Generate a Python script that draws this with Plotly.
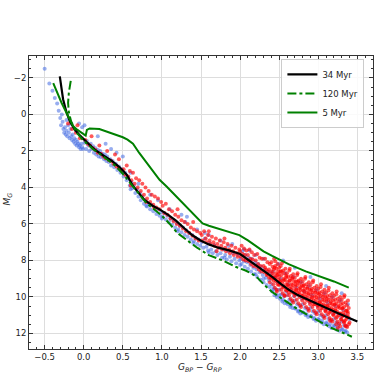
import plotly.graph_objects as go

# ---------------- isochrones ----------------
iso34_x = [-0.306, -0.264, -0.22, -0.178, -0.115, -0.05, 0.034, 0.14, 0.25, 0.36, 0.46, 0.55, 0.63, 0.71, 0.78, 0.88, 0.97, 1.08, 1.18, 1.29, 1.39, 1.5, 1.6, 1.72, 1.86, 2.0, 2.1, 2.2, 2.3, 2.41, 2.52, 2.62, 2.73, 2.84, 2.95, 3.05, 3.16, 3.26, 3.38, 3.5]
iso34_y = [-2.08, -0.83, -0.11, 0.37, 0.83, 1.15, 1.5, 1.93, 2.25, 2.55, 2.9, 3.3, 3.92, 4.35, 4.7, 5.0, 5.2, 5.5, 5.82, 6.25, 6.62, 6.92, 7.12, 7.3, 7.45, 7.65, 7.95, 8.26, 8.55, 8.9, 9.28, 9.6, 9.88, 10.1, 10.3, 10.5, 10.7, 10.9, 11.12, 11.35]

iso120_x = [-0.166, -0.18, -0.19, -0.2, -0.19, -0.16, -0.1, 0.0, 0.12, 0.25, 0.4, 0.5, 0.6, 0.7, 0.8, 0.9, 1.0, 1.1, 1.2, 1.35, 1.45, 1.6, 1.77, 1.95, 2.07, 2.2, 2.3, 2.41, 2.52, 2.62, 2.73, 2.84, 2.95, 3.05, 3.17, 3.3, 3.43]
iso120_y = [-1.84, -1.5, -1.2, -0.64, -0.1, 0.4, 0.95, 1.45, 1.9, 2.3, 2.8, 3.25, 3.8, 4.35, 4.85, 5.2, 5.55, 6.0, 6.5, 6.98, 7.3, 7.71, 7.99, 8.36, 8.55, 8.85, 9.3, 9.73, 10.05, 10.37, 10.65, 10.93, 11.2, 11.44, 11.7, 11.93, 12.18]

iso5_x = [-0.39, -0.284, -0.2, -0.136, -0.08, -0.02, 0.025, 0.04, 0.076, 0.2, 0.33, 0.42, 0.5, 0.56, 0.63, 0.71, 0.78, 0.84, 0.97, 1.06, 1.14, 1.22, 1.31, 1.39, 1.46, 1.52, 1.6, 1.77, 1.99, 2.1, 2.2, 2.3, 2.41, 2.5, 2.62, 2.84, 3.05, 3.2, 3.39]
iso5_y = [-1.71, -0.64, 0.09, 0.64, 0.85, 1.0, 1.16, 0.85, 0.77, 0.8, 1.0, 1.1, 1.25, 1.38, 1.6, 2.11, 2.5, 2.9, 3.58, 3.95, 4.3, 4.7, 5.05, 5.42, 5.75, 5.97, 6.1, 6.34, 6.61, 6.9, 7.2, 7.5, 7.75, 7.95, 8.2, 8.6, 8.9, 9.15, 9.49]

# ---------------- stars (blue) ----------------
blue_x = [
 -0.50,-0.44,-0.40,-0.37,-0.34,-0.32,-0.30,-0.29,-0.27,-0.26,-0.25,-0.24,-0.23,-0.22,-0.21,-0.20,-0.19,-0.18,-0.17,-0.16,-0.15,-0.14,-0.13,-0.12,-0.11,-0.10,-0.09,-0.08,-0.07,-0.06,-0.05,-0.04,-0.03,-0.02,-0.01,-0.06,-0.02,0.01,-0.28,-0.22,-0.16,-0.10,
 0.01,0.03,0.04,0.06,0.07,0.09,0.10,0.12,0.13,0.15,0.16,0.18,0.19,0.21,0.22,0.24,0.26,0.27,0.29,0.30,0.32,0.34,0.35,0.37,0.39,0.41,0.43,0.45,0.47,0.49,0.35,0.42,0.50,0.28,0.18,
 0.51,0.53,0.55,0.57,0.59,0.61,0.62,0.64,0.66,0.68,0.70,0.72,0.73,0.75,0.77,0.79,0.81,0.83,0.85,0.87,0.89,0.91,0.93,0.95,0.97,0.99,0.60,0.70,0.85,0.95,
 1.01,1.03,1.05,1.07,1.09,1.11,1.13,1.15,1.17,1.19,1.21,1.23,1.25,1.27,1.29,1.31,1.33,1.35,1.37,1.39,1.41,1.43,1.45,1.47,1.49,1.10,1.30,1.45,1.25,1.32,
 1.51,1.53,1.55,1.57,1.59,1.61,1.63,1.65,1.67,1.69,1.71,1.73,1.75,1.77,1.79,1.81,1.83,1.85,1.87,1.89,1.91,1.93,1.95,1.97,1.99,1.60,1.75,1.90,1.55,1.85,
 2.01,2.02,2.03,2.05,2.06,2.07,2.09,2.10,2.11,2.13,2.14,2.15,2.17,2.18,2.19,2.21,2.22,2.23,2.25,2.26,2.27,2.29,2.30,2.31,2.33,2.34,2.35,2.37,2.38,2.39,2.05,2.20,2.30,2.12,
 2.40,2.41,2.42,2.43,2.44,2.45,2.46,2.47,2.48,2.49,
 2.50,2.51,2.52,2.53,2.54,2.55,2.56,2.57,2.58,2.59,
 2.60,2.61,2.62,2.63,2.64,2.65,2.66,2.67,2.68,2.69,
 2.70,2.71,2.72,2.73,2.74,2.75,2.76,2.77,2.78,2.79,
 2.80,2.81,2.82,2.83,2.84,2.85,2.86,2.87,2.88,2.89,
 2.90,2.91,2.92,2.93,2.94,2.95,2.96,2.97,2.98,2.99,
 3.00,3.01,3.02,3.03,3.04,3.05,3.06,3.07,3.08,3.09,
 3.10,3.11,3.12,3.13,3.14,3.15,3.16,3.17,3.18,3.19,
 3.20,3.21,3.22,3.23,3.24,3.25,3.26,3.27,3.28,3.29,
 3.30,3.31,3.32,3.33,3.34,3.35,3.36,3.37,3.38,3.40,
 2.55,2.90,3.10,2.70,3.30,
 2.42,2.46,2.50,2.55,2.60,2.65,2.70,2.75,2.80,2.85,2.90,2.95,3.00,3.05,3.10,3.15,3.20,3.25,3.30,3.35,
 1.00,1.20,1.40,1.60,1.80,2.00,2.20,2.30,0.80,0.60,
]
blue_y = [
 -2.5,-1.7,-1.3,-0.9,-0.6,-0.2,0.2,0.6,0.4,0.8,1.0,0.7,1.1,0.9,1.2,0.6,1.0,1.3,0.8,1.2,1.4,1.1,1.5,1.3,1.6,1.4,1.7,1.5,1.6,1.8,1.7,1.9,1.6,1.8,1.9,0.5,0.7,0.6,0.0,0.3,0.5,0.9,
 1.55,1.9,1.45,1.7,2.0,1.6,1.9,1.75,2.1,1.85,2.2,1.95,2.3,2.0,2.35,2.15,2.45,2.2,2.55,2.3,2.6,2.45,2.8,2.55,2.9,2.7,3.05,2.85,3.2,3.0,1.9,2.1,2.3,1.6,1.2,
 3.4,3.2,3.6,3.45,3.9,3.7,4.05,3.9,4.3,4.1,4.5,4.3,4.7,4.5,4.9,4.7,5.05,4.85,5.2,4.95,5.3,5.1,5.45,5.2,5.55,5.35,3.2,3.8,4.4,4.7,
 5.6,5.4,5.75,5.55,5.9,5.7,6.05,5.8,6.2,5.95,6.3,6.1,6.45,6.2,6.6,6.35,6.7,6.5,6.85,6.6,6.95,6.75,7.1,6.85,7.2,5.2,5.9,6.3,5.5,5.6,
 7.0,7.3,6.8,7.25,7.45,7.05,7.4,7.6,7.15,7.5,7.7,7.3,7.6,7.85,7.4,7.7,7.95,7.5,7.8,8.05,7.6,7.9,8.15,7.7,8.0,6.6,6.9,7.1,6.5,7.2,
 7.9,8.2,7.5,8.05,8.35,7.7,8.1,8.45,7.85,8.25,8.6,7.9,8.4,8.75,8.1,8.5,8.9,8.2,8.65,9.05,8.35,8.8,9.2,8.5,8.95,9.35,8.6,9.1,9.45,8.7,7.4,7.7,7.9,7.45,
 9.3,9.7,8.6,9.5,9.9,8.9,9.6,10.0,9.2,8.2,
 9.6,10.1,9.0,9.85,10.25,9.4,9.95,10.35,8.7,9.7,
 9.9,10.4,9.3,10.15,10.55,9.6,10.25,10.6,8.9,9.95,
 10.2,10.65,9.5,10.4,10.8,9.9,10.5,10.9,9.2,10.1,
 10.4,10.85,9.7,10.6,11.0,10.1,10.7,11.1,9.4,10.3,
 10.6,11.05,9.9,10.8,11.2,10.3,10.9,11.3,9.6,10.5,
 10.8,11.25,10.1,11.0,11.4,10.5,11.1,11.5,9.8,10.7,
 11.0,11.45,10.3,11.2,11.6,10.7,11.3,11.7,10.0,10.9,
 11.2,11.6,10.5,11.4,11.8,10.9,11.5,11.85,10.2,11.1,
 11.35,11.75,10.7,11.55,11.9,11.0,11.6,11.95,10.4,11.2,
 8.0,8.9,9.4,8.4,9.8,
 9.6,9.85,9.9,10.15,10.3,10.45,10.6,10.75,10.85,10.95,11.05,11.15,11.2,11.3,11.4,11.5,11.55,11.65,11.8,11.85,
 5.7,6.4,7.05,7.55,7.85,8.25,8.75,9.0,5.0,4.1,
]

# ---------------- stars (red) ----------------
red_x = [
 0.02,0.05,0.08,0.12,0.15,0.18,0.22,0.25,0.28,0.32,0.35,0.38,0.42,0.45,0.48,0.20,0.30,0.40,0.45,0.10,-0.10,-0.15,-0.05,-0.20,-0.08,
 0.51,0.53,0.55,0.57,0.59,0.61,0.63,0.65,0.67,0.69,0.71,0.73,0.75,0.77,0.79,0.81,0.83,0.85,0.87,0.89,0.91,0.93,0.95,0.97,0.99,0.60,0.80,0.90,
 1.01,1.03,1.05,1.07,1.09,1.11,1.13,1.15,1.17,1.19,1.21,1.23,1.25,1.27,1.29,1.31,1.33,1.35,1.37,1.39,1.41,1.43,1.45,1.47,1.49,1.20,1.40,
 1.51,1.52,1.54,1.56,1.57,1.59,1.61,1.62,1.64,1.66,1.67,1.69,1.71,1.72,1.74,1.76,1.77,1.79,1.81,1.82,1.84,1.86,1.87,1.89,1.91,1.92,1.94,1.96,1.97,1.99,1.60,1.80,1.70,
 2.00,2.01,2.02,2.03,2.04,2.05,2.06,2.07,2.08,
 2.10,2.11,2.12,2.13,2.14,2.15,2.16,2.17,2.18,
 2.20,2.21,2.22,2.23,2.24,2.25,2.26,2.27,2.28,
 2.30,2.31,2.32,2.33,2.34,2.35,2.36,2.37,2.38,
 2.400,2.405,2.410,2.415,2.420,2.425,2.430,2.435,2.440,2.445,2.450,2.455,2.460,2.465,2.470,2.475,2.480,2.485,2.490,2.495,
 2.500,2.505,2.510,2.515,2.520,2.525,2.530,2.535,2.540,2.545,2.550,2.555,2.560,2.565,2.570,2.575,2.580,2.585,2.590,2.595,
 2.600,2.605,2.610,2.615,2.620,2.625,2.630,2.635,2.640,2.645,2.650,2.655,2.660,2.665,2.670,2.675,2.680,2.685,2.690,2.695,
 2.700,2.705,2.710,2.715,2.720,2.725,2.730,2.735,2.740,2.745,2.750,2.755,2.760,2.765,2.770,2.775,2.780,2.785,2.790,2.795,
 2.800,2.805,2.810,2.815,2.820,2.825,2.830,2.835,2.840,2.845,2.850,2.855,2.860,2.865,2.870,2.875,2.880,2.885,2.890,2.895,
 2.900,2.905,2.910,2.915,2.920,2.925,2.930,2.935,2.940,2.945,2.950,2.955,2.960,2.965,2.970,2.975,2.980,2.985,2.990,2.995,
 3.000,3.005,3.010,3.015,3.020,3.025,3.030,3.035,3.040,3.045,3.050,3.055,3.060,3.065,3.070,3.075,3.080,3.085,3.090,3.095,
 3.100,3.105,3.110,3.115,3.120,3.125,3.130,3.135,3.140,3.145,3.150,3.155,3.160,3.165,3.170,3.175,3.180,3.185,3.190,3.195,
 3.200,3.205,3.210,3.215,3.220,3.225,3.230,3.235,3.240,3.245,3.250,3.255,3.260,3.265,3.270,3.275,3.280,3.285,3.290,3.295,
 3.300,3.305,3.310,3.315,3.320,3.325,3.330,3.335,3.340,3.345,3.350,3.355,3.360,3.365,3.370,3.375,3.380,3.385,3.390,3.400,
 2.32,2.35,2.37,2.39,2.41,2.43,2.44,2.46,2.48,2.49,
 2.51,2.53,2.54,2.56,2.58,2.59,2.61,2.62,2.64,2.66,
 2.67,2.69,2.71,2.72,2.74,2.76,2.77,2.79,2.81,2.82,
 2.84,2.86,2.87,2.89,2.91,2.92,2.94,2.96,2.97,2.99,
 3.01,3.02,3.04,3.06,3.07,3.09,3.11,3.12,3.14,3.16,
 3.17,3.19,3.21,3.22,3.24,3.26,3.27,3.29,3.31,3.32,
 3.34,3.36,3.37,3.39,3.38,3.35,3.33,3.28,3.23,3.18,
 2.52,2.63,2.73,2.83,2.93,3.03,3.13,3.23,3.33,2.45,
 2.57,2.68,2.78,2.88,2.98,3.08,3.15,3.25,2.47,2.38,
]
red_y = [
 1.4,1.6,1.7,1.85,1.95,2.1,2.15,2.3,2.4,2.5,2.55,2.7,2.85,2.95,3.05,1.7,2.0,2.2,2.45,1.2,1.0,0.8,1.3,0.5,0.6,
 3.0,3.3,2.8,3.4,3.1,3.6,3.2,3.8,3.5,4.0,3.6,4.2,3.8,4.4,4.0,4.6,4.2,4.8,4.4,4.95,4.5,5.1,4.6,5.2,4.8,3.9,4.8,5.1,
 5.0,5.4,4.9,5.5,5.2,5.7,5.3,5.85,5.5,6.0,5.6,6.1,5.8,6.25,5.9,6.4,6.0,6.5,6.2,6.65,6.3,6.8,6.4,6.9,6.5,5.2,5.9,
 6.6,6.9,6.4,6.8,7.0,6.6,6.9,7.1,6.7,7.0,7.2,6.8,7.1,7.3,6.9,7.2,7.4,7.0,7.3,7.5,7.1,7.4,7.6,7.2,7.5,7.7,7.3,7.6,7.8,7.4,6.4,6.8,7.5,
 7.5,7.8,7.2,7.65,7.95,7.35,7.7,8.0,7.45,
 7.7,8.05,7.4,7.9,8.2,7.55,7.95,8.3,7.7,
 8.0,8.35,7.65,8.2,8.5,7.85,8.3,8.6,7.9,
 8.3,8.65,7.9,8.5,8.8,8.1,8.6,8.95,8.2,
 8.1,8.6,9.0,8.35,8.85,9.3,8.5,7.9,8.95,9.5,8.3,8.7,9.15,8.45,9.6,8.8,8.2,9.05,8.6,9.35,
 8.4,8.9,9.3,8.6,9.1,9.6,8.8,8.15,9.25,9.8,8.55,9.0,9.45,8.7,9.9,9.05,8.45,9.35,8.85,9.65,
 8.7,9.2,9.6,8.9,9.4,9.9,9.1,8.45,9.55,10.1,8.85,9.3,9.75,9.0,10.2,9.35,8.75,9.65,9.15,9.95,
 8.95,9.45,9.85,9.15,9.65,10.15,9.35,8.7,9.8,10.35,9.1,9.55,10.0,9.25,10.45,9.6,9.0,9.9,9.4,10.2,
 9.15,9.65,10.05,9.35,9.85,10.35,9.55,8.9,10.0,10.55,9.3,9.75,10.2,9.45,10.65,9.8,9.2,10.1,9.6,10.4,
 9.35,9.85,10.25,9.55,10.05,10.55,9.75,9.1,10.2,10.75,9.5,9.95,10.4,9.65,10.85,10.0,9.4,10.3,9.8,10.6,
 9.55,10.05,10.45,9.75,10.25,10.75,9.95,9.3,10.4,10.95,9.7,10.15,10.6,9.85,11.05,10.2,9.6,10.5,10.0,10.8,
 9.75,10.25,10.65,9.95,10.45,10.95,10.15,9.5,10.6,11.15,9.9,10.35,10.8,10.05,11.25,10.4,9.8,10.7,10.2,11.0,
 9.95,10.45,10.85,10.15,10.65,11.15,10.35,9.7,10.8,11.35,10.1,10.55,11.0,10.25,11.45,10.6,10.0,10.9,10.4,11.2,
 10.15,10.65,11.05,10.35,10.85,11.35,10.55,9.9,11.0,11.55,10.3,10.75,11.2,10.45,11.65,10.8,10.2,11.1,10.6,11.4,
 8.4,8.75,8.5,8.95,8.7,9.1,8.4,8.9,9.3,8.75,
 9.15,8.6,9.45,9.1,9.6,8.9,9.35,9.75,9.1,9.5,
 8.95,9.8,9.3,9.6,9.15,9.75,9.45,9.95,9.4,9.7,
 10.1,9.55,9.9,10.25,9.65,10.0,10.4,9.75,10.15,10.45,
 9.85,10.3,10.6,10.0,10.4,10.75,10.1,10.5,10.85,10.25,
 10.6,10.95,10.4,10.75,11.1,10.5,10.9,11.25,10.6,11.0,
 11.3,10.75,11.1,11.5,10.9,11.6,11.4,11.6,11.5,11.35,
 8.3,8.55,8.8,9.0,9.2,9.45,9.65,9.85,10.0,8.05,
 9.95,10.3,10.55,10.75,10.95,11.15,11.3,11.7,9.7,9.2,
]

x_ticks = [-0.5, 0.0, 0.5, 1.0, 1.5, 2.0, 2.5, 3.0, 3.5]
y_ticks = [-2, 0, 2, 4, 6, 8, 10, 12]

FONT = "DejaVu Sans"
fig = go.Figure()
fig.add_trace(go.Scatter(x=blue_x, y=blue_y, mode="markers", showlegend=False, hoverinfo="skip",
                         marker=dict(color="#4169e1", size=4, opacity=0.55, line=dict(width=0))))
fig.add_trace(go.Scatter(x=red_x, y=red_y, mode="markers", showlegend=False, hoverinfo="skip",
                         marker=dict(color="#ff0000", size=4, opacity=0.65, line=dict(width=0))))
fig.add_trace(go.Scatter(x=iso34_x, y=iso34_y, mode="lines", name="34 Myr",
                         line=dict(color="black", width=2.2)))
fig.add_trace(go.Scatter(x=iso120_x, y=iso120_y, mode="lines", name="120 Myr",
                         line=dict(color="#008000", width=2, dash="dashdot")))
fig.add_trace(go.Scatter(x=iso5_x, y=iso5_y, mode="lines", name="5 Myr",
                         line=dict(color="#008000", width=2)))

axis_common = dict(showgrid=True, gridcolor="#dddddd", gridwidth=1, zeroline=False,
                   showline=True, linecolor="#333333", linewidth=1, mirror="allticks",
                   ticks="inside", ticklen=4, tickcolor="#333333", automargin=False,
                   tickfont=dict(family=FONT, size=8.5, color="#222222"))

fig.update_xaxes(range=[-0.7, 3.7], tickvals=x_ticks,
                 ticktext=[("\u2212" if v < 0 else "") + f"{abs(v):.1f}" for v in x_ticks],
                 minor=dict(dtick=0.1, tick0=0, ticks="inside", ticklen=2, tickcolor="#333333", showgrid=False),
                 **axis_common)
fig.update_yaxes(range=[12.85, -3.2], tickvals=y_ticks,
                 ticktext=[("\u2212" if v < 0 else "") + f"{abs(v)}" for v in y_ticks],
                 minor=dict(dtick=0.5, tick0=0, ticks="inside", ticklen=2, tickcolor="#333333", showgrid=False),
                 **axis_common)

fig.add_annotation(text="<i>G</i><sub><i>BP</i></sub> \u2212 <i>G</i><sub><i>RP</i></sub>",
                   xref="paper", yref="paper", x=0.497, y=-0.036, xanchor="center", yanchor="top",
                   showarrow=False, font=dict(family=FONT, size=9, color="#222222"))
fig.add_annotation(text="<i>M</i><sub><i>G</i></sub>",
                   xref="paper", yref="paper", x=-0.061, y=0.51, xanchor="center", yanchor="middle",
                   textangle=-90, showarrow=False, font=dict(family=FONT, size=9, color="#222222"))

fig.update_layout(
    width=374, height=374,
    margin=dict(l=29, r=1, t=56, b=25),
    paper_bgcolor="white", plot_bgcolor="white",
    font=dict(family=FONT, size=8.5, color="#222222"),
    hovermode=False,
    legend=dict(x=0.975, y=0.99, xanchor="right", yanchor="top",
                bgcolor="rgba(255,255,255,0.85)", bordercolor="#cccccc", borderwidth=1,
                font=dict(family=FONT, size=8.5), itemwidth=30, tracegroupgap=0),
)

fig.write_html("out.html", config={"displayModeBar": False},
               post_script="document.body.style.margin='0';document.body.style.overflow='hidden';")
